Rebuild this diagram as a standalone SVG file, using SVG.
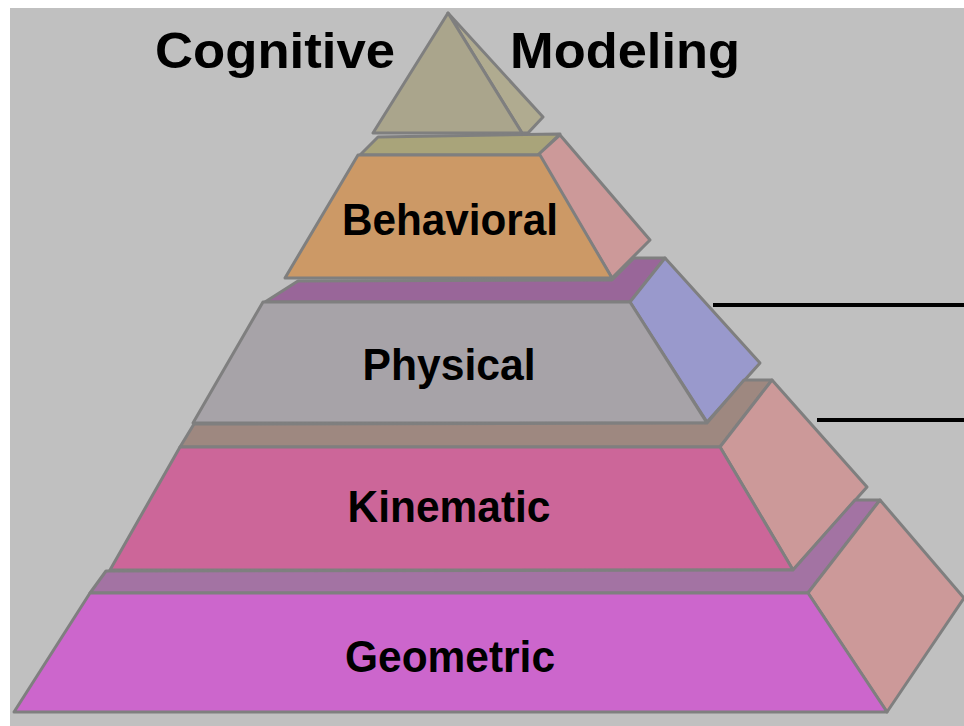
<svg xmlns="http://www.w3.org/2000/svg" width="964" height="726" viewBox="0 0 964 726">
<style>
.edge{stroke:#7f7f7f;stroke-width:3;stroke-linejoin:round}
.lbl{font-family:"Liberation Sans",Arial,sans-serif;font-weight:bold;fill:#000;text-anchor:middle}
.t{font-size:50px}
.n{font-size:44px}
.band1{fill:#a9a47a}
.band2{fill:#996699}
.band3{fill:#9e8880}
.band4{fill:#a373a3}
.side{fill:#cc9999}
</style>
<rect x="0" y="0" width="964" height="726" fill="#ffffff"/>
<rect x="10" y="8" width="954" height="718" fill="#c0c0c0"/>
<g id="title">
<text class="lbl t" x="275" y="68" textLength="240" lengthAdjust="spacingAndGlyphs">Cognitive</text>
<text class="lbl t" x="625" y="68" textLength="230" lengthAdjust="spacingAndGlyphs">Modeling</text>
</g>
<g id="cognitive">
<polygon class="edge" fill="#b0ab90" points="448,13 543,117 528,133 522,133"/>
<polygon class="edge" fill="#aaa58c" points="448,13 373,133 522,133"/>
</g>
<g id="behavioral">
<polygon class="edge band1" points="360,155 378,137 560,134 538,155"/>
<polygon class="edge side" points="538,155 560,135 650,240 612,278"/>
<polygon class="edge" fill="#cc9966" points="358,155 540,155 612,278 285,278"/>
<text class="lbl n" x="450" y="235" textLength="216" lengthAdjust="spacingAndGlyphs">Behavioral</text>
</g>
<g id="physical">
<polygon class="edge band2" points="265,302 298,281 612,280 634,258 665,258 630,302"/>
<polygon class="edge" fill="#9999cc" points="630,302 665,258 760,363 707,422"/>
<polygon class="edge" fill="#a7a3a8" points="263,302 630,302 707,423 193,423"/>
<text class="lbl n" x="449" y="380" textLength="173" lengthAdjust="spacingAndGlyphs">Physical</text>
</g>
<g id="kinematic">
<polygon class="edge band3" points="180,447 194,424 707,423 744,380 772,380 720,447"/>
<polygon class="edge side" points="720,447 772,380 867,487 793,570"/>
<polygon class="edge" fill="#cc6699" points="180,447 720,447 793,570 110,570"/>
<text class="lbl n" x="449" y="522" textLength="203" lengthAdjust="spacingAndGlyphs">Kinematic</text>
</g>
<g id="geometric">
<polygon class="edge band4" points="90,593 106,571 793,570 855,500 880,500 808,593"/>
<polygon class="edge side" points="808,593 880,500 964,598 887,712"/>
<polygon class="edge" fill="#cc66cc" points="90,593 808,593 887,712 14,712"/>
<text class="lbl n" x="450" y="672" textLength="210" lengthAdjust="spacingAndGlyphs">Geometric</text>
</g>
<g id="connectors" stroke="#000" stroke-width="4">
<line x1="713" y1="305" x2="964" y2="305"/>
<line x1="817" y1="420" x2="964" y2="420"/>
</g>
</svg>
